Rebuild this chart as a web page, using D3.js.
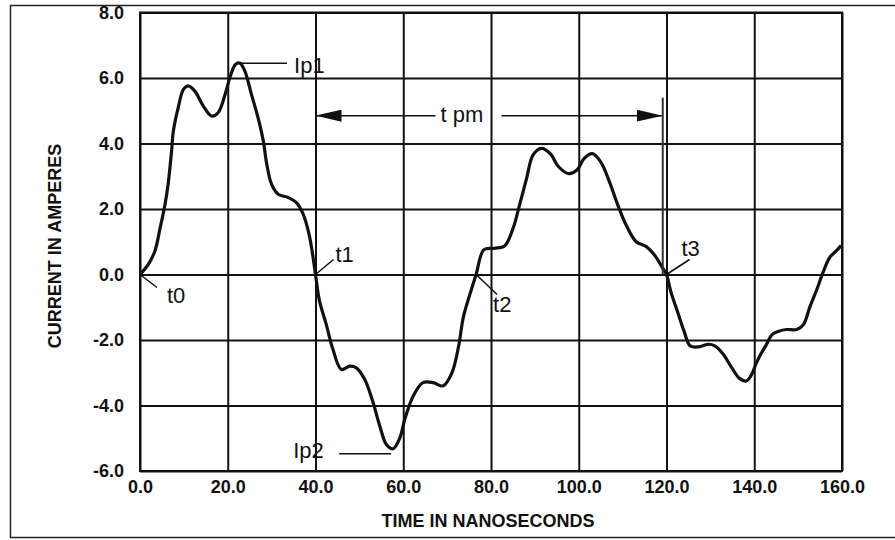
<!DOCTYPE html>
<html>
<head>
<meta charset="utf-8">
<script src="https://cdn.jsdelivr.net/npm/d3@7"></script>
<style>
  body { margin: 0; background: #fff; }
  svg { display: block; }
  .tick text { font-family: "Liberation Sans", Arial, sans-serif; font-weight: bold; font-size: 18px; fill: #111; }
  .grid line { stroke: #111; stroke-width: 2; }
  .note { font-family: "Liberation Sans", Arial, sans-serif; font-size: 22px; fill: #111; }
  .title { font-family: "Liberation Sans", Arial, sans-serif; font-weight: bold; font-size: 18px; fill: #111; }
</style>
</head>
<body>
<div id="chart"></div>
<script>
// waveform
var timeNs = [0, 1.9, 3.4, 4.6, 5.7, 6.4, 7.2, 7.6, 8.7, 9.9, 11.0, 12.5, 14.4, 16.3, 17.8, 19.4,
  20.6, 21.8, 22.8, 23.9, 25.4, 26.9, 28.1, 28.9, 30.0, 31.5, 33.8, 35.7, 37.2, 38.7, 40.0,
  40.9, 42.4, 44.0, 45.9, 47.8, 49.3, 51.2, 53.1, 54.6, 56.2, 57.7, 59.2, 60.4, 62.3, 64.5,
  66.8, 69.1, 71.1, 72.6, 73.7, 75.2, 76.6, 78.4, 80.8, 83.1, 85.0, 86.5, 88.1, 89.6, 91.5,
  93.5, 95.4, 97.7, 99.6, 101.2, 103.1, 105.0, 107.0, 108.9, 110.8, 113.1, 115.4, 117.3,
  119.2, 120.0, 121.0, 122.5, 124.0, 125.4, 127.3, 129.6, 131.0, 132.9, 134.8, 136.7, 138.2,
  139.3, 140.4, 141.5, 142.6, 144.1, 145.6, 147.4, 149.7, 151.2, 152.7, 154.2, 155.7, 157.2,
  158.7, 159.8];
var currentA = [0, 0.31, 0.72, 1.43, 2.14, 2.75, 3.77, 4.38, 5.09, 5.65, 5.76, 5.60, 5.15, 4.84, 4.94, 5.50,
  6.06, 6.42, 6.45, 6.21, 5.50, 4.79, 4.08, 3.36, 2.75, 2.45, 2.35, 2.19, 1.84, 1.12, 0.0,
  -0.80, -1.50, -2.30, -2.90, -2.80, -2.85, -3.20, -3.90, -4.60, -5.20, -5.32, -5.00, -4.40, -3.70, -3.30,
  -3.30, -3.40, -3.00, -2.20, -1.30, -0.60, 0.0, 0.76, 0.80, 0.87, 1.40, 2.12, 2.93, 3.65, 3.85,
  3.69, 3.29, 3.08, 3.19, 3.54, 3.69, 3.44, 2.83, 2.12, 1.51, 1.00, 0.85, 0.59,
  0.18, 0.0, -0.53, -1.13, -1.73, -2.18, -2.21, -2.13, -2.18, -2.43, -2.83, -3.18, -3.25,
  -3.08, -2.73, -2.43, -2.18, -1.83, -1.73, -1.68, -1.68, -1.53, -0.98, -0.48, 0.07, 0.52,
  0.72, 0.88];

var xTicks = [0, 20, 40, 60, 80, 100, 120, 140, 160];
var yTicks = [-6, -4, -2, 0, 2, 4, 6, 8];

// marked points on the trace
var markLabels = ["t0", "t1", "t2", "t3"];
var markTimes = [0, 40, 76.6, 120];
var peakLabels = ["Ip1", "Ip2"];
var peakTimes = [22.8, 57.7];
var peakValues = [6.45, -5.32];
var tpmStart = 40, tpmEnd = 119.6, tpmLevel = 4.85;

var W = 895, H = 540;
var svg = d3.select("#chart").append("svg").attr("width", W).attr("height", H);

// outer frame of the scanned figure
svg.append("rect")
    .attr("x", 10.5).attr("y", 5.5)
    .attr("width", 900).attr("height", 532)
    .attr("fill", "none").attr("stroke", "#222").attr("stroke-width", 1.5);

var x = d3.scaleLinear().domain([0, 160]).range([140, 842]);
var y = d3.scaleLinear().domain([-6, 8]).range([471, 12.5]);

// plain hyphen for negatives, like the original print
var fmt = d3.formatLocale({ decimal: ".", thousands: ",", grouping: [3], currency: ["", ""], minus: "-" }).format(".1f");

var gx = svg.append("g")
    .attr("class", "grid")
    .attr("transform", "translate(0," + y(-6) + ")")
    .call(d3.axisBottom(x).tickValues(xTicks).tickFormat(fmt).tickSize(-(y(-6) - y(8))).tickPadding(7));
gx.select(".domain").remove();
gx.selectAll("text").attr("dy", "0.85em");

var gy = svg.append("g")
    .attr("class", "grid")
    .attr("transform", "translate(" + x(0) + ",0)")
    .call(d3.axisLeft(y).tickValues(yTicks).tickFormat(fmt).tickSize(-(x(160) - x(0))).tickPadding(16));
gy.select(".domain").remove();

svg.append("rect")
    .attr("x", x(0)).attr("y", y(8))
    .attr("width", x(160) - x(0)).attr("height", y(-6) - y(8))
    .attr("fill", "none").attr("stroke", "#111").attr("stroke-width", 2);

// axis titles
svg.append("text").attr("class", "title")
    .attr("x", 488).attr("y", 527)
    .attr("text-anchor", "middle")
    .text("TIME IN NANOSECONDS");

svg.append("text").attr("class", "title")
    .attr("transform", "translate(61,246) rotate(-90)")
    .attr("text-anchor", "middle")
    .text("CURRENT IN AMPERES");

// trace
var pts = timeNs.map(function(t, i) { return [t, currentA[i]]; });
var line = d3.line()
    .x(function(d) { return x(d[0]); })
    .y(function(d) { return y(d[1]); })
    .curve(d3.curveCatmullRom.alpha(0.5));

svg.append("path")
    .datum(pts)
    .attr("d", line)
    .attr("fill", "none")
    .attr("stroke", "#111")
    .attr("stroke-width", 3.2)
    .attr("stroke-linejoin", "round");

// t0..t3 leaders: leader end and text offset from the crossing
var leader = {
  t0: { lx: 17, ly: 13, tx: 27, ty: 28 },
  t1: { lx: 18, ly: -15, tx: 20, ty: -13 },
  t2: { lx: 21, ly: 20, tx: 17, ty: 37 },
  t3: { lx: 23, ly: -15, tx: 15, ty: -19 }
};
markLabels.forEach(function(lab, i) {
  var px = x(markTimes[i]), py = y(0), o = leader[lab];
  svg.append("line")
      .attr("x1", px).attr("y1", py).attr("x2", px + o.lx).attr("y2", py + o.ly)
      .attr("stroke", "#111").attr("stroke-width", 1.5);
  svg.append("text").attr("class", "note")
      .attr("x", px + o.tx).attr("y", py + o.ty)
      .text(lab);
});

// peak labels
var ip1x = x(peakTimes[0]), ip1y = y(peakValues[0]);
svg.append("line")
    .attr("x1", ip1x).attr("y1", ip1y).attr("x2", ip1x + 47).attr("y2", ip1y)
    .attr("stroke", "#111").attr("stroke-width", 1.5);
svg.append("text").attr("class", "note")
    .attr("x", ip1x + 54).attr("y", ip1y + 10)
    .text(peakLabels[0]);

var ip2x = x(peakTimes[1]), ip2y = y(peakValues[1]);
svg.append("line")
    .attr("x1", ip2x - 2).attr("y1", ip2y + 5).attr("x2", ip2x - 54).attr("y2", ip2y + 5)
    .attr("stroke", "#111").attr("stroke-width", 1.5);
svg.append("text").attr("class", "note")
    .attr("x", ip2x - 100).attr("y", ip2y + 9)
    .text(peakLabels[1]);

// t pm dimension arrow
var defs = svg.append("defs");
defs.append("marker")
    .attr("id", "arr")
    .attr("viewBox", "0 0 26 12")
    .attr("refX", 26).attr("refY", 6)
    .attr("markerWidth", 26).attr("markerHeight", 12)
    .attr("markerUnits", "userSpaceOnUse")
    .attr("orient", "auto")
  .append("path")
    .attr("d", "M0,0 L26,6 L0,12 Z")
    .attr("fill", "#111");

var ay = y(tpmLevel);
svg.append("line")
    .attr("x1", x(tpmStart) + 120).attr("y1", ay).attr("x2", x(tpmStart)).attr("y2", ay)
    .attr("stroke", "#111").attr("stroke-width", 1.5)
    .attr("marker-end", "url(#arr)");
svg.append("line")
    .attr("x1", x(tpmStart) + 186).attr("y1", ay).attr("x2", x(tpmEnd) - 2).attr("y2", ay)
    .attr("stroke", "#111").attr("stroke-width", 1.5)
    .attr("marker-end", "url(#arr)");
svg.append("text").attr("class", "note")
    .attr("x", x(tpmStart) + 125).attr("y", ay + 6)
    .text("t pm");

// vertical marker at the end of t pm
svg.append("line")
    .attr("x1", x(tpmEnd) - 2).attr("y1", y(5.4)).attr("x2", x(tpmEnd) - 2).attr("y2", y(0))
    .attr("stroke", "#333").attr("stroke-width", 2);
</script>
</body>
</html>
